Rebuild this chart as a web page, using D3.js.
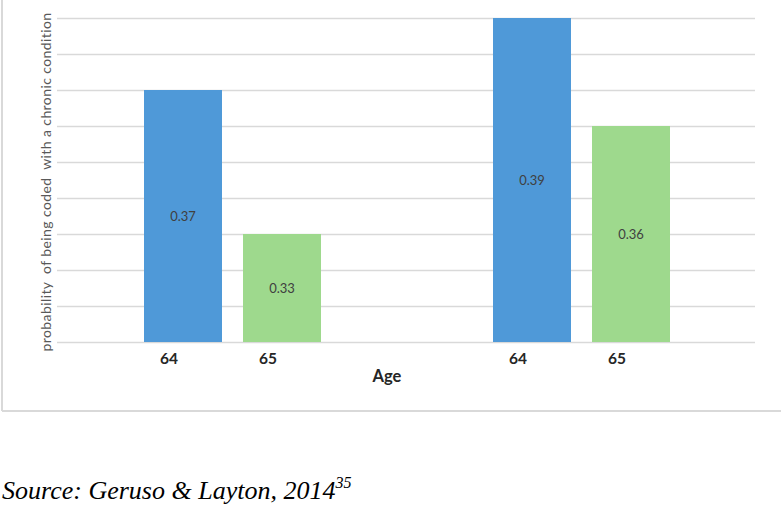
<!DOCTYPE html>
<html>
<head>
<meta charset="utf-8">
<script src="https://cdn.jsdelivr.net/npm/d3@7"></script>
<style>
  html, body { margin: 0; padding: 0; background: #fff; }
  svg { display: block; }
</style>
</head>
<body>
<svg id="chart" width="781" height="505"></svg>
<script>
// ---- data ----
const groups = ["Group 1", "Group 2"];
const ages = ["64", "65"];
const group1Values = [0.37, 0.33];
const group2Values = [0.39, 0.36];
const yDomain = [0.30, 0.39];
const seriesColors = ["#4F99D8", "#9ED98D"];
const yAxisTitle = "probability  of being coded  with a chronic condition";
const xAxisTitle = "Age";
const sourceText = "Source: Geruso & Layton, 2014";
const sourceSup = "35";

const data = groups.map((g, i) => ({
  group: g,
  values: ages.map((a, j) => ({ age: a, value: [group1Values, group2Values][i][j] }))
}));

const svg = d3.select("#chart");

// frame
svg.append("line").attr("x1", 2).attr("x2", 2).attr("y1", 0).attr("y2", 411)
  .attr("stroke", "#d9d9d9").attr("stroke-width", 2);
svg.append("line").attr("x1", 2).attr("x2", 781).attr("y1", 411).attr("y2", 411)
  .attr("stroke", "#d9d9d9").attr("stroke-width", 2);

const plotLeft = 57, plotRight = 755, plotTop = 18, plotBottom = 342;

const y = d3.scaleLinear().domain(yDomain).range([plotBottom, plotTop]);
const x0 = d3.scaleBand().domain(groups).range([plotLeft, plotRight]).padding(0);
const x1 = d3.scaleBand().domain(ages).range([87, 264]).paddingInner(21 / 99).paddingOuter(0);
const color = d3.scaleOrdinal().domain(ages).range(seriesColors);

// gridlines
const grid = svg.append("g").attr("transform", `translate(${plotLeft},0)`)
  .call(d3.axisLeft(y).ticks(10).tickSize(-(plotRight - plotLeft)).tickFormat(""));
grid.select(".domain").remove();
grid.selectAll(".tick line").attr("stroke", "#d9d9d9").attr("stroke-width", 1.5);

// bars
const g = svg.selectAll(".grp").data(data).enter().append("g")
  .attr("class", "grp")
  .attr("transform", d => `translate(${x0(d.group)},0)`);

g.selectAll("rect").data(d => d.values).enter().append("rect")
  .attr("x", d => x1(d.age))
  .attr("width", x1.bandwidth())
  .attr("y", d => y(d.value))
  .attr("height", d => y(yDomain[0]) - y(d.value))
  .attr("fill", d => color(d.age));

// value labels
g.selectAll(".val").data(d => d.values).enter().append("text")
  .attr("class", "val")
  .attr("x", d => x1(d.age) + x1.bandwidth() / 2)
  .attr("y", d => (y(d.value) + y(yDomain[0])) / 2 + 5)
  .attr("text-anchor", "middle")
  .attr("font-family", "Lato, 'Open Sans', sans-serif")
  .attr("font-size", 13)
  .attr("fill", "#404040")
  .text(d => d.value.toFixed(2));

// x tick labels
g.selectAll(".tick-lbl").data(d => d.values).enter().append("text")
  .attr("class", "tick-lbl")
  .attr("x", d => x1(d.age) + x1.bandwidth() / 2 - 14)
  .attr("y", 364)
  .attr("text-anchor", "middle")
  .attr("font-family", "Lato, 'Open Sans', sans-serif")
  .attr("font-size", 15.5)
  .attr("font-weight", "bold")
  .attr("fill", "#262626")
  .text(d => d.age);

// x axis title
svg.append("text")
  .attr("x", 387).attr("y", 382)
  .attr("text-anchor", "middle")
  .attr("font-family", "Lato, 'Open Sans', sans-serif")
  .attr("font-size", 16.5)
  .attr("font-weight", "bold")
  .attr("fill", "#262626")
  .text(xAxisTitle);

// y axis title
svg.append("text")
  .attr("transform", "translate(51,182) rotate(-90)")
  .attr("text-anchor", "middle")
  .attr("font-family", "Lato, 'Open Sans', sans-serif")
  .attr("font-size", 14)
  .attr("letter-spacing", 0.4)
  .attr("fill", "#595959")
  .attr("xml:space", "preserve")
  .style("white-space", "pre")
  .text(yAxisTitle);

// source
const src = svg.append("text")
  .attr("x", 2).attr("y", 499)
  .attr("font-family", "'Liberation Serif', 'Times New Roman', serif")
  .attr("font-style", "italic")
  .attr("font-size", 26)
  .attr("fill", "#000");
src.append("tspan").text(sourceText);
src.append("tspan").attr("font-size", 16).attr("dy", -11).text(sourceSup);
</script>
</body>
</html>
